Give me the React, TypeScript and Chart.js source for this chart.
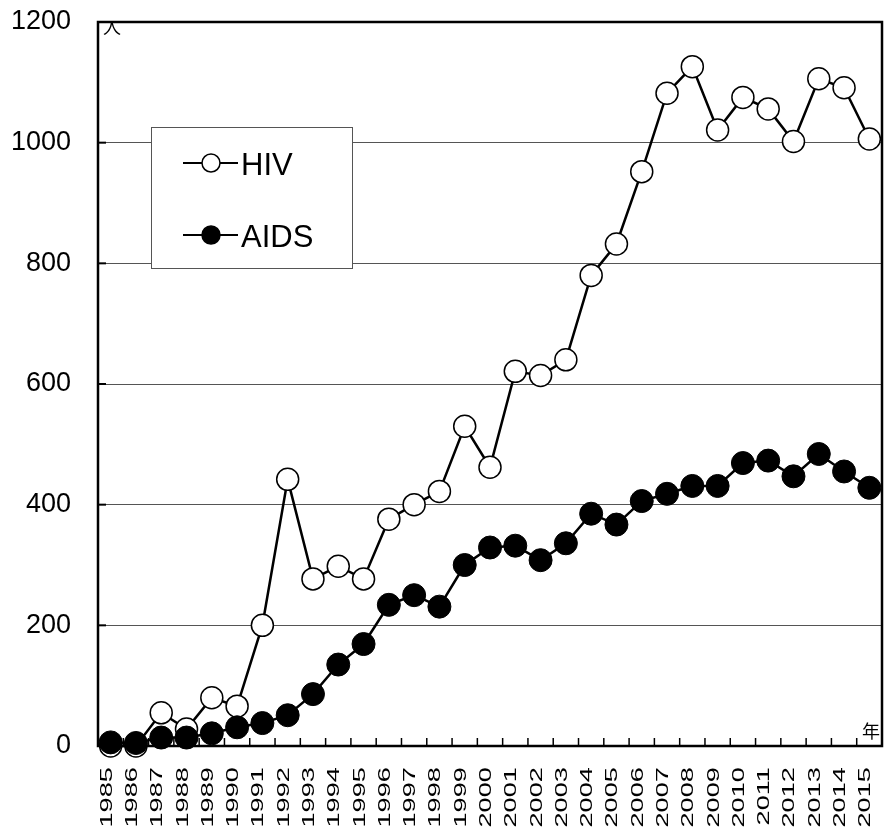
import React, { useEffect, useRef } from "react";
import { Chart, registerables } from "chart.js";

Chart.register(...registerables);

const years = [
  "1985", "1986", "1987", "1988", "1989", "1990", "1991", "1992", "1993", "1994",
  "1995", "1996", "1997", "1998", "1999", "2000", "2001", "2002", "2003", "2004",
  "2005", "2006", "2007", "2008", "2009", "2010", "2011", "2012", "2013", "2014", "2015",
];
const hivCounts = [
  0, 0, 55, 28, 80, 66, 200, 442, 277, 298,
  277, 376, 400, 422, 530, 462, 621, 614, 640, 780,
  832, 952, 1082, 1126, 1021, 1075, 1056, 1002, 1106, 1091, 1006,
];
const aidsCounts = [
  6, 5, 14, 14, 21, 31, 38, 51, 86, 135,
  169, 234, 250, 231, 300, 329, 332, 308, 336, 385,
  367, 406, 418, 431, 431, 469, 473, 447, 484, 455, 428,
];
const yMin = 0;
const yMax = 1200;
const yStep = 200;
const seriesLabels = ["HIV", "AIDS"];
const yUnit = "人";
const xUnit = "年";

const FONT = "'Liberation Sans', Arial, sans-serif";
const CJK = "'Noto Sans CJK JP', sans-serif";

export default function App() {
  const ref = useRef<HTMLCanvasElement>(null);

  useEffect(() => {
    const canvas = ref.current!;

    const decorations = {
      id: "decorations",
      beforeDatasetsDraw(chart: any) {
        const { ctx, chartArea } = chart;
        const xs = chart.scales.x;
        const ys = chart.scales.y;
        ctx.save();
        ctx.strokeStyle = "#000";
        const step = xs.getPixelForValue(1) - xs.getPixelForValue(0);
        ctx.lineWidth = 1.5;
        for (let i = 0; i <= years.length; i++) {
          const px = xs.getPixelForValue(0) - step / 2 + i * step;
          ctx.beginPath();
          ctx.moveTo(px, chartArea.bottom);
          ctx.lineTo(px, chartArea.bottom - 8);
          ctx.stroke();
        }
        ctx.lineWidth = 2;
        for (let v = yMin; v <= yMax; v += yStep) {
          const py = ys.getPixelForValue(v);
          ctx.beginPath();
          ctx.moveTo(chartArea.left, py);
          ctx.lineTo(chartArea.left + 8, py);
          ctx.stroke();
        }
        ctx.lineWidth = 2.5;
        ctx.strokeRect(
          chartArea.left,
          chartArea.top,
          chartArea.right - chartArea.left,
          chartArea.bottom - chartArea.top
        );
        ctx.save();
        ctx.beginPath();
        ctx.rect(chartArea.left, chartArea.top + 1, chartArea.right - chartArea.left, chartArea.bottom - chartArea.top);
        ctx.clip();
        ctx.fillStyle = "#000";
        ctx.font = `18px ${CJK}`;
        ctx.textAlign = "left";
        ctx.textBaseline = "bottom";
        ctx.fillText(yUnit, chartArea.left + 5, chartArea.top + 14);
        ctx.restore();
        ctx.fillStyle = "#000";
        ctx.font = `18px ${CJK}`;
        ctx.textAlign = "right";
        ctx.textBaseline = "bottom";
        ctx.fillText(xUnit, chartArea.right - 2, chartArea.bottom - 6);
        ctx.restore();
      },
      afterDraw(chart: any) {
        const { ctx, chartArea } = chart;
        const xs = chart.scales.x;
        ctx.save();
        ctx.fillStyle = "#000";
        ctx.font = `17px ${FONT}`;
        ctx.textAlign = "right";
        ctx.textBaseline = "alphabetic";
        years.forEach((label, i) => {
          const px = xs.getPixelForValue(i);
          ctx.save();
          ctx.translate(px + 1, chartArea.bottom + 21);
          ctx.rotate(-Math.PI / 2);
          ctx.scale(1.6, 1);
          ctx.fillText(label, 0, 0);
          ctx.restore();
        });
        const bx = 151, by = 127, bw = 201, bh = 141;
        ctx.fillStyle = "#fff";
        ctx.fillRect(bx, by, bw, bh);
        ctx.strokeStyle = "#555";
        ctx.lineWidth = 1;
        ctx.strokeRect(bx + 0.5, by + 0.5, bw, bh);
        const rows = [163, 235];
        chart.data.datasets.forEach((ds: any) => {
          const idx = seriesLabels.indexOf(ds.label);
          const cy = rows[idx];
          ctx.strokeStyle = "#000";
          ctx.lineWidth = 2;
          ctx.beginPath();
          ctx.moveTo(183, cy);
          ctx.lineTo(238, cy);
          ctx.stroke();
          ctx.beginPath();
          ctx.arc(211, cy, 9, 0, Math.PI * 2);
          ctx.fillStyle = ds.pointBackgroundColor;
          ctx.fill();
          ctx.lineWidth = 1.5;
          ctx.stroke();
          ctx.fillStyle = "#000";
          ctx.font = `31px ${FONT}`;
          ctx.textAlign = "left";
          ctx.textBaseline = "alphabetic";
          ctx.fillText(ds.label, 241, cy + 12);
        });
        ctx.restore();
      },
    };

    const chart = new Chart(canvas, {
      type: "line",
      data: {
        labels: years,
        datasets: [
          {
            label: seriesLabels[0],
            data: hivCounts,
            borderColor: "#000",
            borderWidth: 2.5,
            pointRadius: 11,
            pointBorderWidth: 1.5,
            pointBackgroundColor: "#fff",
            pointBorderColor: "#000",
            tension: 0,
            clip: false as any,
            order: 2,
          },
          {
            label: seriesLabels[1],
            data: aidsCounts,
            borderColor: "#000",
            borderWidth: 2.5,
            pointRadius: 11.5,
            pointBorderWidth: 1,
            pointBackgroundColor: "#000",
            pointBorderColor: "#000",
            tension: 0,
            clip: false as any,
            order: 1,
          },
        ],
      },
      options: {
        animation: false,
        responsive: false,
        devicePixelRatio: 1,
        layout: { autoPadding: false, padding: { left: 0, top: 22, right: 3, bottom: 0 } },
        plugins: {
          legend: { display: false },
          tooltip: { enabled: false },
        },
        scales: {
          x: {
            type: "category",
            offset: true,
            grid: { display: false, drawTicks: false },
            border: { display: false },
            ticks: { display: false },
            afterFit(scale: any) {
              scale.height = 82;
            },
          },
          y: {
            min: yMin,
            max: yMax,
            border: { display: false },
            grid: {
              drawTicks: false,
              color: (c: any) => (c.tick && c.tick.value === yMax ? "#000" : "#555"),
              lineWidth: (c: any) => (c.tick && c.tick.value === yMax ? 2 : 1),
            },
            ticks: {
              stepSize: yStep,
              padding: 27,
              color: "#000",
              font: { family: FONT, size: 27 },
              callback: (v: any) => String(v),
            },
            afterFit(scale: any) {
              scale.width = 98;
              scale.paddingTop = 0;
              scale.paddingBottom = 0;
            },
          },
        },
      },
      plugins: [decorations],
    });

    return () => chart.destroy();
  }, []);

  return (
    <div style={{ position: "absolute", left: 0, top: 0, width: 885, height: 828, background: "#fff" }}>
      <canvas ref={ref} width={885} height={828} style={{ display: "block" }} />
    </div>
  );
}
